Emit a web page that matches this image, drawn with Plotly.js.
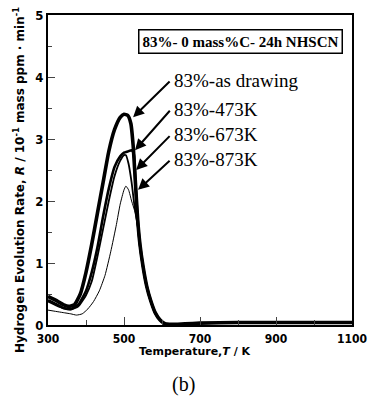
<!DOCTYPE html>
<html>
<head>
<meta charset="utf-8">
<script src="https://cdn.plot.ly/plotly-3.0.1.min.js"></script>
<style>html,body{margin:0;padding:0;background:#fff;}#chart{width:368px;height:414px;}</style>
</head>
<body>
<div id="chart"></div>
<script>
// Temperatures (K) and hydrogen evolution rates (10^-1 mass ppm/min)
const tAsDrawn = [300,320,340,355,370,385,400,415,430,445,460,475,490,500,510,518,524,530,536,542,550,560,570,582,595,608,625,660,700,800,900,1000,1100];
const rAsDrawn = [0.46,0.40,0.33,0.30,0.33,0.50,0.85,1.30,1.80,2.30,2.80,3.15,3.35,3.40,3.38,3.25,2.90,2.30,1.70,1.30,0.95,0.62,0.40,0.20,0.08,0.02,0.01,0.02,0.03,0.04,0.04,0.04,0.04];

const t473 = [300,320,340,360,380,400,415,430,445,460,475,490,500,510,520,526,530,536,542,550,560,570,582,595,608,625];
const r473 = [0.40,0.34,0.28,0.26,0.33,0.55,0.85,1.25,1.75,2.20,2.55,2.72,2.78,2.80,2.82,2.75,2.30,1.70,1.30,0.95,0.62,0.40,0.20,0.08,0.02,0.01];

const t673 = [300,320,340,360,380,400,415,430,445,460,475,490,500,505,512,520,528,536,542,550,560,570,582,595,608,625];
const r673 = [0.38,0.32,0.27,0.25,0.30,0.48,0.70,1.10,1.55,2.00,2.40,2.65,2.74,2.74,2.60,2.30,1.90,1.60,1.25,0.92,0.60,0.38,0.19,0.08,0.02,0.01];

const t873 = [300,320,340,360,375,390,405,420,435,450,465,480,490,500,505,512,520,530,540,550,560,570,582,595,608,625];
const r873 = [0.24,0.22,0.20,0.18,0.16,0.18,0.26,0.38,0.55,0.80,1.18,1.62,1.95,2.18,2.24,2.18,2.00,1.80,1.40,1.00,0.65,0.40,0.20,0.08,0.02,0.01];

const seriesNames = ["83%-as drawing","83%-473K","83%-673K","83%-873K"];
const boxLabel = "83%- 0 mass%C- 24h NHSCN";
const xTickVals = [300,500,700,900,1100];
const yTickVals = [0,1,2,3,4,5];

// label positions / arrow tips (data coords)
const labelY = [3.95,3.48,3.07,2.67];
const arrowTipX = [524,529,532,537];
const arrowTipY = [3.35,2.82,2.50,2.18];

const widths = [3.6,2.6,1.8,1.0];
const data = [
  {x:tAsDrawn,y:rAsDrawn},{x:t473,y:r473},{x:t673,y:r673},{x:t873,y:r873}
].map((d,i)=>({x:d.x,y:d.y,type:'scatter',mode:'lines',name:seriesNames[i],
  line:{color:'#000',width:widths[i],shape:'spline',smoothing:0.5},hoverinfo:'skip'}));

const serif = '"Liberation Serif", "DejaVu Serif", serif';
const sans = '"DejaVu Sans", sans-serif';
const tickFam = '"DejaVu Sans Condensed", "DejaVu Sans", sans-serif';

const annotations = [];
seriesNames.forEach((n,i)=>{
  annotations.push({x:625,y:labelY[i],xref:'x',yref:'y',text:n,showarrow:false,
    xanchor:'left',yanchor:'middle',font:{family:serif,size:19,color:'#000'}});
  annotations.push({x:arrowTipX[i],y:arrowTipY[i],xref:'x',yref:'y',axref:'x',ayref:'y',
    ax:624,ay:labelY[i],text:'',showarrow:true,arrowhead:2,arrowsize:1.1,arrowwidth:2,arrowcolor:'#000'});
});
annotations.push({x:0.632,y:0.954,xref:'paper',yref:'paper',text:'<b>'+boxLabel+'</b>',showarrow:false,
  font:{family:serif,size:15,color:'#000'},bordercolor:'#000',borderwidth:1.5,borderpad:3,bgcolor:'#fff'});
annotations.push({x:-0.128,y:0.468,xref:'paper',yref:'paper',textangle:-90,showarrow:false,
  text:'<b>Hydrogen Evolution Rate, <i>R</i> / 10<sup>-1</sup> mass ppm · min<sup>-1</sup></b>',
  font:{family:sans,size:12,color:'#000'}});
annotations.push({x:0.484,y:-0.113,xref:'paper',yref:'paper',showarrow:false,
  text:'<b>Temperature,<i>T</i> / K</b>',font:{family:sans,size:11,color:'#000'}});
annotations.push({x:0.447,y:-0.235,xref:'paper',yref:'paper',showarrow:false,
  text:'(b)',font:{family:serif,size:20,color:'#000'}});

const layout = {
  width:368,height:414,margin:{l:48,r:16,t:15,b:89},
  paper_bgcolor:'#fff',plot_bgcolor:'#fff',showlegend:false,
  xaxis:{range:[300,1100],tickvals:xTickVals,ticktext:xTickVals.map(String),ticks:'inside',ticklen:8,tickwidth:1,
    ticklabeloverflow:'allow',ticklabelstandoff:2,
    minor:{dtick:100,tick0:300,ticks:'inside',ticklen:5},
    showline:true,linecolor:'#000',linewidth:2,mirror:true,showgrid:false,zeroline:false,
    tickfont:{family:tickFam,size:12,color:'#000',weight:'bold'}},
  yaxis:{range:[0,5],tickvals:yTickVals,ticktext:yTickVals.map(String),ticks:'inside',ticklen:7,tickwidth:1,
    minor:{dtick:0.5,tick0:0,ticks:'inside',ticklen:4},
    showline:true,linecolor:'#000',linewidth:2,mirror:true,showgrid:false,zeroline:false,
    tickfont:{family:tickFam,size:13,color:'#000',weight:'bold'}},
  annotations:annotations
};
Plotly.newPlot('chart',data,layout,{staticPlot:true,displayModeBar:false});
</script>
</body>
</html>
